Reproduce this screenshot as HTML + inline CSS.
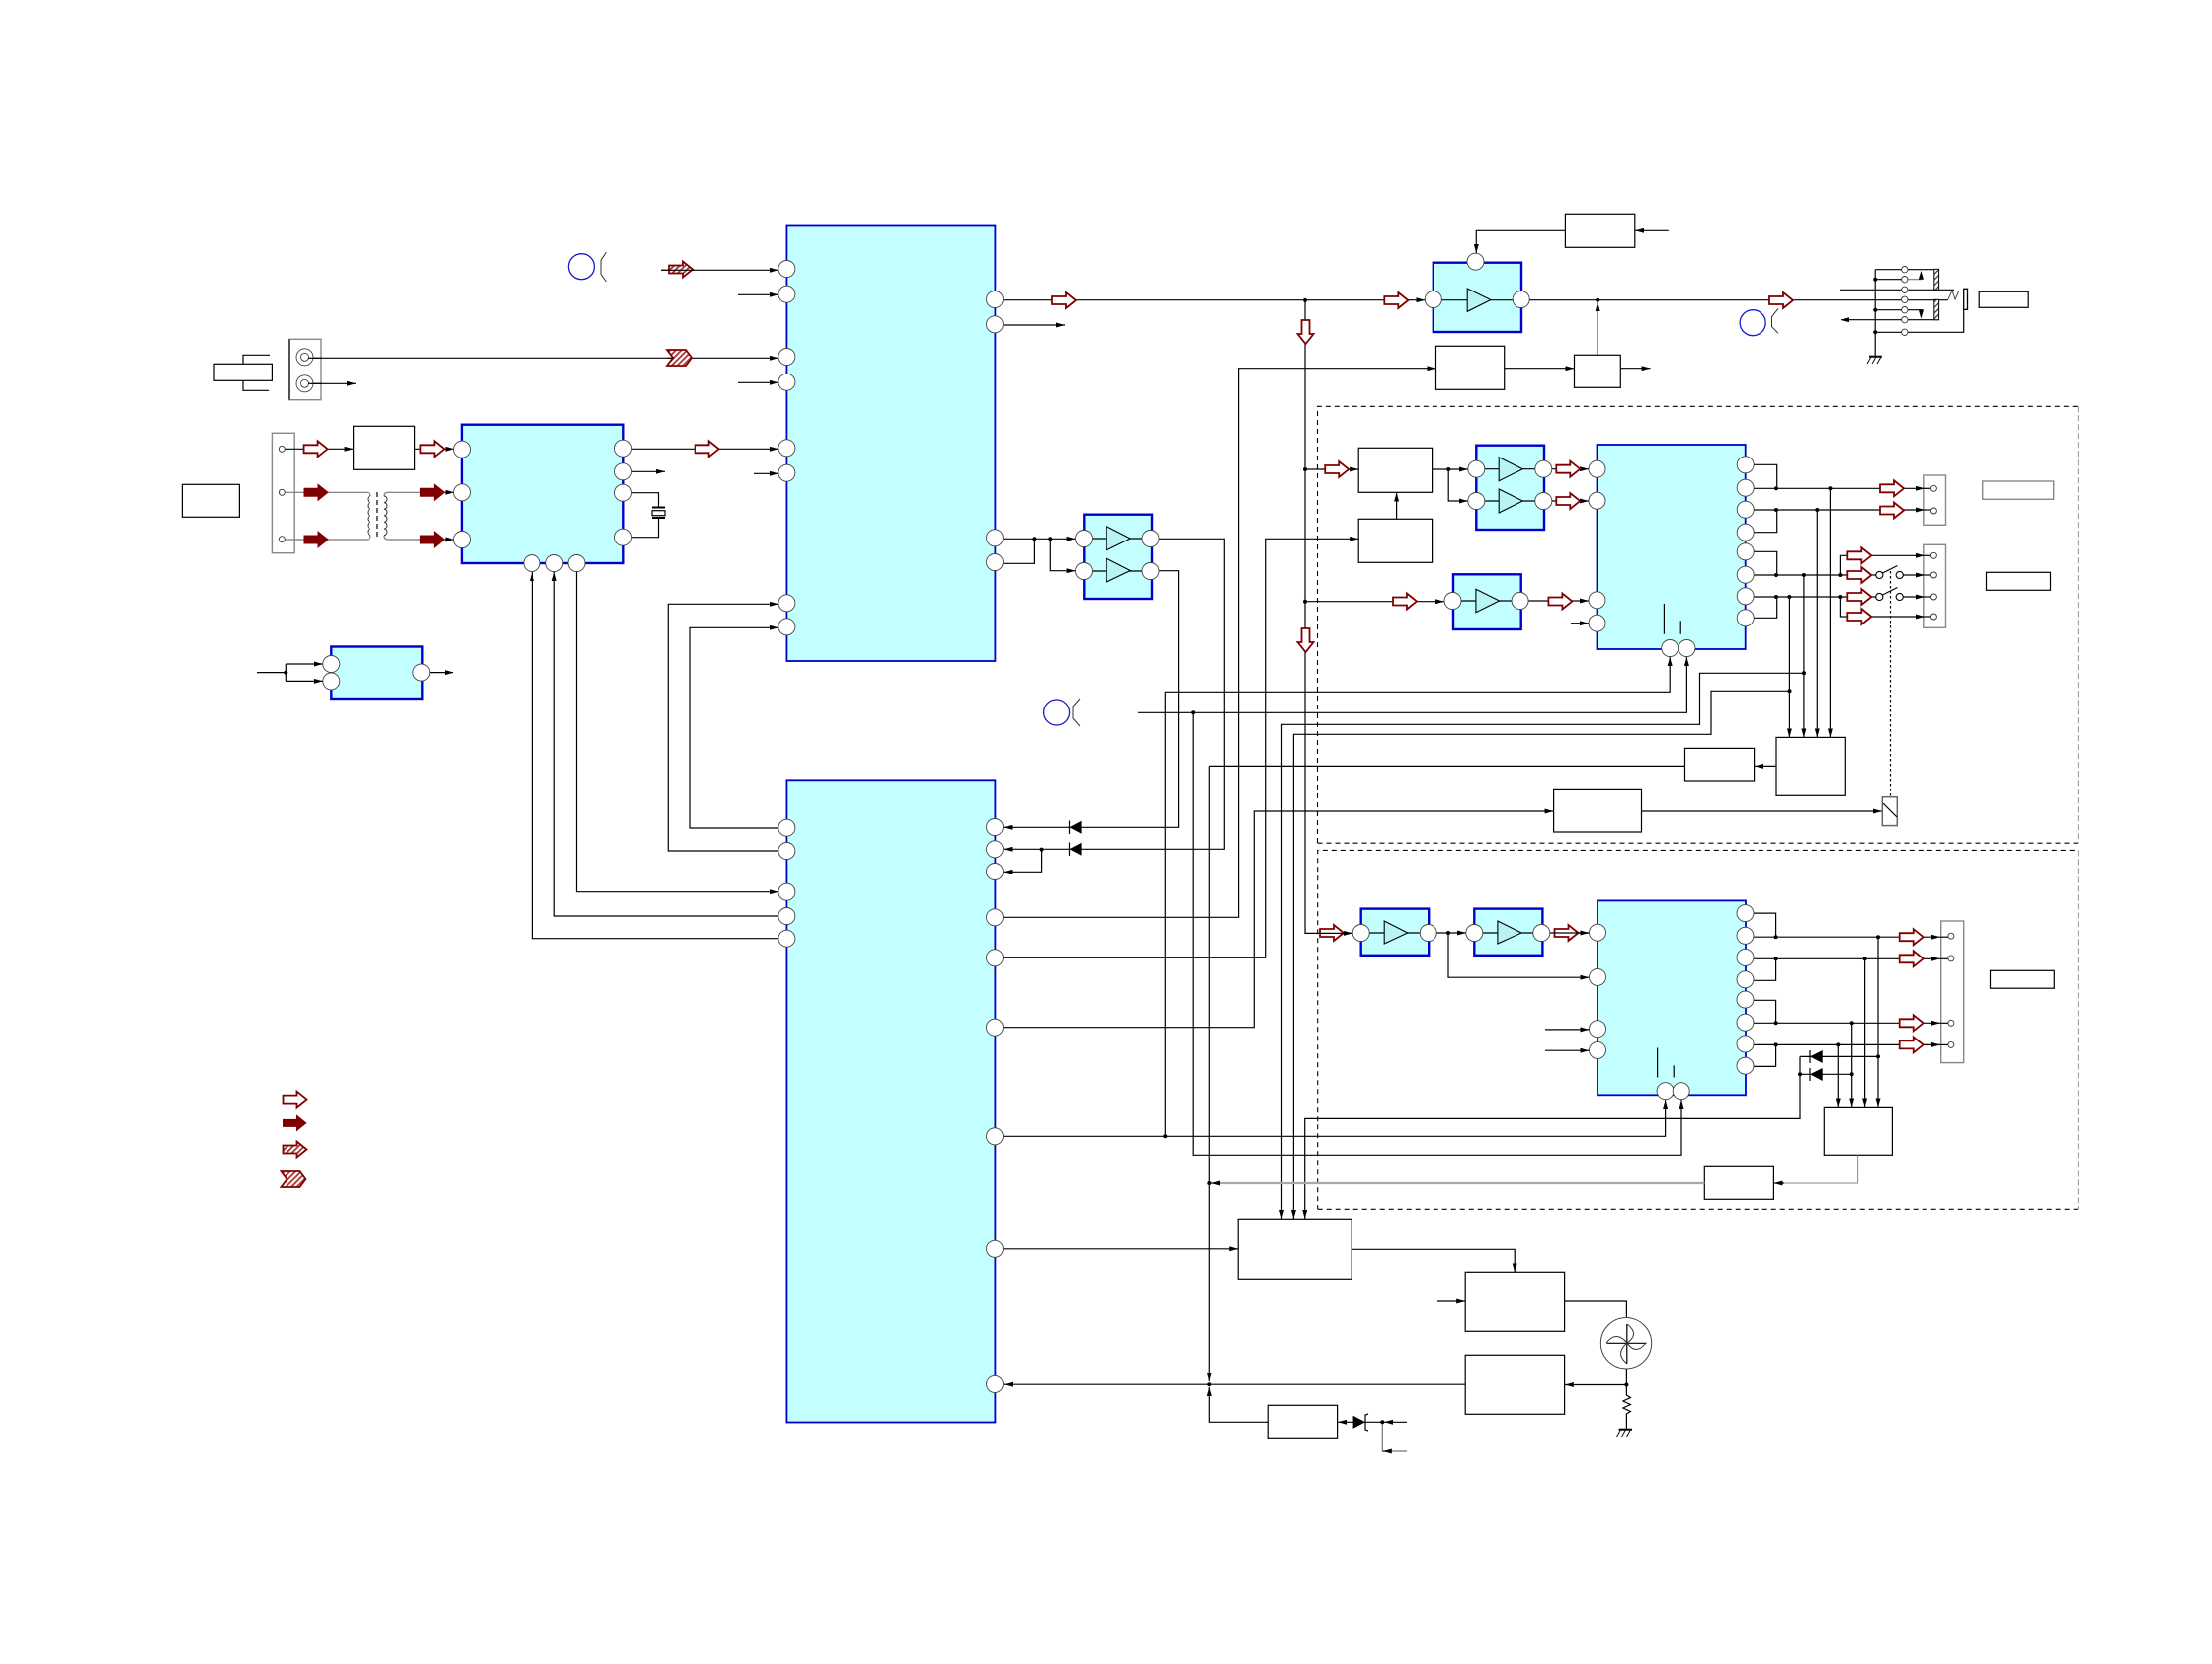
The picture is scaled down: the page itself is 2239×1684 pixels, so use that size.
<!DOCTYPE html>
<html><head><meta charset="utf-8"><title>Block diagram</title>
<style>
html,body{margin:0;padding:0;background:#fff;width:2239px;height:1684px;overflow:hidden}
svg{display:block}
.w{fill:none;stroke:#000;stroke-width:1.2}
.a{fill:none;stroke:#000;stroke-width:1.2;marker-end:url(#m)}
.g{fill:none;stroke:#777;stroke-width:1.2}
.b{fill:#c4ffff;stroke:#0000cc;stroke-width:2.4}
.bt{fill:#c4ffff;stroke:#0000cc;stroke-width:1.8}
.r{fill:#fff;stroke:#000;stroke-width:1.2}
.rg{fill:#fff;stroke:#888;stroke-width:1.4}
.p{fill:#fff;stroke:#444;stroke-width:.9}
.sp{fill:#fff;stroke:#333;stroke-width:.9}
.sw{fill:#fff;stroke:#000;stroke-width:1.1}
.t{fill:#b8f4f4;stroke:#000;stroke-width:1.1}
.j{fill:#000}
.o{fill:#fff;stroke:#800000;stroke-width:1.8}
.f{fill:#800000;stroke:#800000;stroke-width:1}
.h{fill:url(#hr);stroke:#800000;stroke-width:1.8}
.d{fill:none;stroke:#000;stroke-width:1.1;stroke-dasharray:5 4}
.dg{fill:none;stroke:#999;stroke-width:1;stroke-dasharray:6 3}
.bc{fill:none;stroke:#1a1acc;stroke-width:1.3}
.br{fill:none;stroke:#333;stroke-width:1}
</style></head><body>
<svg width="2239" height="1684" viewBox="0 0 2239 1684" xmlns="http://www.w3.org/2000/svg">
<defs>
<marker id="m" viewBox="0 0 9 5" refX="9" refY="2.5" markerWidth="9" markerHeight="5" markerUnits="userSpaceOnUse" orient="auto"><path d="M0,0L9,2.5L0,5Z"/></marker>
<pattern id="hr" width="4" height="4" patternUnits="userSpaceOnUse" patternTransform="rotate(-45)"><rect width="4" height="4" fill="#fff"/><rect width="4" height="1.8" fill="#a33"/></pattern>
<pattern id="hk" width="4" height="4" patternUnits="userSpaceOnUse" patternTransform="rotate(-45)"><rect width="4" height="4" fill="#fff"/><rect width="4" height="1.2" fill="#333"/></pattern>
<path id="ao" d="M0,-4H14V-8L24,0L14,8V4H0Z"/>
<path id="ac" d="M0,-8H19L25,0L19,8H0L6,0Z"/>
<path id="ad" d="M-4,0V14H-8L0,24L8,14H4V0Z"/>
</defs>

<rect width="2239" height="1684" fill="#fff"/>

<!-- dashed regions -->
<path class="d" d="M1333.5,853V411.3H2103"/><path class="dg" d="M2103.4,411.3V853"/><path class="d" d="M1333.5,853.2H2103"/>
<path class="d" d="M1333.7,1224.3V860.4H2103"/><path class="dg" d="M2103.4,860.4V1224.3"/><path class="d" d="M1333.7,1224.3H2103"/>

<!-- blocks -->
<rect class="bt" x="796.4" y="228.5" width="211" height="440.5"/>
<rect class="bt" x="796.4" y="789.3" width="211" height="650.2"/>
<rect class="b" x="467.9" y="429.7" width="163.4" height="140.3"/>
<rect class="b" x="335.3" y="654.5" width="92" height="52.5"/>
<rect class="b" x="1450.8" y="265.7" width="89.2" height="70.3"/>
<rect class="b" x="1097.3" y="520.7" width="68.7" height="85.3"/>
<rect class="b" x="1494.3" y="450.7" width="68.7" height="85.3"/>
<rect class="b" x="1471" y="581.3" width="68.7" height="55.7"/>
<rect class="b" x="1377.7" y="919.6" width="68.5" height="47.2"/>
<rect class="b" x="1492.3" y="919.6" width="69.1" height="47.2"/>
<rect class="bt" x="1616.5" y="450" width="150.2" height="207"/>
<rect class="bt" x="1617" y="911.4" width="150" height="196.9"/>

<!-- plain boxes -->
<rect class="r" x="184.4" y="490.3" width="58" height="33"/>
<rect class="r" x="357.6" y="431.3" width="62" height="44"/>
<rect class="r" x="217" y="368.3" width="58.4" height="17"/>
<rect class="r" x="1584.4" y="217.3" width="70.4" height="33"/>
<rect class="r" x="1453.5" y="350.3" width="69.2" height="44"/>
<rect class="r" x="1593.5" y="359.3" width="46.8" height="33"/>
<rect class="r" x="1375.2" y="453.3" width="74.4" height="45"/>
<rect class="r" x="1375.2" y="525.3" width="74.4" height="44"/>
<rect class="r" x="1572.6" y="798.4" width="88.9" height="43.6"/>
<rect class="r" x="1705.5" y="757.4" width="70.1" height="32.6"/>
<rect class="r" x="1798" y="746.4" width="70.3" height="58.9"/>
<rect class="r" x="1846.3" y="1120.4" width="69.1" height="48.9"/>
<rect class="r" x="1725.3" y="1180.3" width="70.1" height="33"/>
<rect class="r" x="1253.2" y="1234.3" width="115" height="60"/>
<rect class="r" x="1483.2" y="1287.3" width="100.4" height="60"/>
<rect class="r" x="1483.2" y="1371.3" width="100.4" height="60"/>
<rect class="r" x="1283.2" y="1422.3" width="70.4" height="33"/>
<rect class="r" x="2003.2" y="295.3" width="50" height="16"/>
<rect class="rg" x="2006.7" y="487" width="72" height="18.3"/>
<rect class="r" x="2010.5" y="579.3" width="65" height="18"/>
<rect class="r" x="2014.5" y="982.3" width="64.8" height="17.9"/>

<!-- strips and panels -->
<rect class="rg" x="293" y="343.3" width="32" height="61.4"/><path class="w" d="M293,343.3V404.7"/>
<rect class="rg" x="275.4" y="438.3" width="22.8" height="121.4"/>
<rect class="rg" x="1946.8" y="481" width="22.7" height="50.3"/>
<rect class="rg" x="1946.8" y="551.3" width="22.7" height="84"/>
<rect class="rg" x="1964.7" y="932" width="23" height="143.6"/>

<!-- plug -->
<path class="w" d="M246,368.3V359.3H273M246,385.3V395.3H272"/>

<!-- wires left -->
<path class="a" d="M669,273.3H788"/>
<path class="a" d="M747,298.3H788"/>
<path class="a" d="M311.6,362.3H788"/>
<path class="a" d="M747,387.3H788"/>
<path class="a" d="M640,454.3H788"/>
<path class="a" d="M763,479.3H788"/>
<path class="a" d="M788,861H676.3V611.3H788"/>
<path class="a" d="M788,838H698V635.3H788"/>
<path class="a" d="M788,949.7H538.4V579"/>
<path class="a" d="M788,927H561.2V579"/>
<path class="a" d="M583.5,579V902.7H788"/>
<path class="a" d="M312,388.3H360"/>
<path class="a" d="M285.3,454.3H357.6"/>
<path class="a" d="M419.6,454.3H459.4"/>
<path class="g" d="M288,498.3H371Q375,498.3 375,502M288,546H371Q375,546 375,542"/>
<path class="g" d="M393,498.3H452M393,546H452M393,546Q389,546 389,542M393,498.3Q389,498.3 389,502"/>
<path class="a" d="M450,498.3H459.4"/><path class="a" d="M450,546H459.4"/>
<path class="br" d="M375,502a3,3.3 0 1 0 0,6.6a3,3.3 0 1 0 0,6.6a3,3.3 0 1 0 0,6.6a3,3.3 0 1 0 0,6.6a3,3.3 0 1 0 0,6.6a3,3.3 0 1 0 0,6.6"/>
<path class="br" d="M389,502a3,3.3 0 1 1 0,6.6a3,3.3 0 1 1 0,6.6a3,3.3 0 1 1 0,6.6a3,3.3 0 1 1 0,6.6a3,3.3 0 1 1 0,6.6a3,3.3 0 1 1 0,6.6"/>
<path class="w" d="M382,498V546" stroke-dasharray="5 3"/>
<path class="a" d="M640,477.3H673"/>
<path class="w" d="M640,498.7H666.5V513M666.5,524V543.7H640"/>
<path class="w" d="M660,513.5H673M660,524H673" style="stroke-width:2"/>
<rect class="r" x="660" y="516.7" width="13" height="5"/>
<path class="w" d="M260,680.6H289.3M289.3,672V689.4"/>
<path class="a" d="M289.3,672H327"/><path class="a" d="M289.3,689.4H327"/><path class="a" d="M435,680.6H459"/>

<!-- wires centre -->
<path class="a" d="M1016,303.7H1442.3"/>
<path class="a" d="M1016,329H1078"/>
<path class="a" d="M1016,545.3H1088.6"/>
<path class="w" d="M1016,570.3H1047.4V545.3"/>
<path class="a" d="M1063.3,545.3V577.7H1088.6"/>
<path class="a" d="M1173,545.3H1239.3V859.3H1015.5"/>
<path class="a" d="M1173,577.7H1192.6V837.3H1015.5"/>
<path class="a" d="M1054.6,859.3V882.3H1015.5"/>
<path class="a" d="M1015.5,928.3H1253.6V372.7H1453.5"/>
<path class="a" d="M1015.5,969.3H1280.7V545.3H1375.2"/>
<path class="a" d="M1015.5,1039.7H1269.3V821H1572.6"/>
<path class="a" d="M1661.5,821H1905"/>
<path class="a" d="M1015.5,1150.3H1685.6V1113"/>
<path class="a" d="M1179.3,1150.3V700.3H1690.2V665"/>
<path class="a" d="M1152,721.3H1707.4V665"/>
<path class="a" d="M1208.2,721.3V1169.3H1702V1113"/>
<path class="w" d="M1224.3,775.4H1705.5"/>
<path class="a" d="M1224.3,775.4V1398"/>
<path class="a" d="M1283.2,1439.3H1224.3V1404"/>
<path class="a" d="M1798,775.4H1776"/>
<path class="a" d="M1826,681.3H1720.5V733.3H1297.5V1234"/>
<path class="a" d="M1811.5,699.3H1732V743.3H1309.4V1234"/>
<path class="a" d="M1822,1069.4V1131.4H1320.7V1234"/>
<path class="w" d="M1901,1069.4H1822M1874.7,1087.3H1822"/>
<path fill="none" stroke="#a8a8a8" stroke-width="2.2" d="M1725.3,1197H1233"/>
<path class="a" d="M1235,1197H1226"/>
<path fill="none" stroke="#888" stroke-width="1" d="M1880.6,1169.3V1197H1804"/>
<path class="a" d="M1806,1197H1795.6"/>
<path class="a" d="M1015.5,1263.8H1253.2"/>
<path class="a" d="M1368.2,1264.3H1533.2V1287.3"/>
<path class="a" d="M1455,1317H1483.2"/>
<path class="w" d="M1583.6,1317H1646.4V1333M1646.4,1385V1412l4,2.5-7.5,3.5 7.5,3.5-7.5,3.5 7.5,3.5-4,2.5V1446.7"/>
<path class="a" d="M1646.4,1401.5H1583.8"/>
<path class="a" d="M1483.2,1401.2H1016"/>
<path class="a" d="M1424,1439.3H1401"/>
<path class="a" d="M1399.3,1439.3H1354"/>
<path class="g" d="M1399.3,1439.3V1468H1424"/>
<path class="a" d="M1408,1468H1399.8"/>

<!-- wires upper right -->
<path class="a" d="M1321,303.7V944.4H1369"/>
<path class="a" d="M1321,475H1375.2"/>
<path class="a" d="M1321,608.7H1462"/>
<path class="a" d="M1449.6,475H1485.8"/>
<path class="a" d="M1466.2,475V507H1485.8"/>
<path class="a" d="M1413.6,525.3V498.5"/>
<path class="a" d="M1571,474.7H1608"/><path class="a" d="M1571,507H1608"/>
<path class="a" d="M1547,608H1608"/><path class="a" d="M1590,630.7H1608"/>
<path class="w" d="M1684.4,611V641.7M1701.2,628.3V641.7"/>
<path class="a" d="M1548,303.7H1972" style="marker-end:none"/>
<path class="a" d="M1617.2,359.3V306"/>
<path class="a" d="M1640.3,372.7H1670.6"/>
<path class="a" d="M1522.7,372.7H1593.5"/>
<path class="a" d="M1584.4,233.3H1494.3V256"/>
<path class="a" d="M1688.8,233.3H1655"/>
<!-- output section upper -->
<path class="a" d="M1775,494.3H1948"/><path class="w" d="M1948,494.3H1957"/>
<path class="w" d="M1775,470.3H1798.7V494.3"/>
<path class="a" d="M1775,516H1948"/><path class="w" d="M1948,516H1957"/>
<path class="w" d="M1775,538.7H1798.7V516M1775,558.3H1798.7V582M1775,582H1902M1775,604H1902M1775,625.3H1798.7V604"/>
<path class="a" d="M1862.4,582V562.3H1948"/><path class="w" d="M1948,562.3H1957"/>
<path class="a" d="M1862.4,604V624H1948"/><path class="w" d="M1948,624H1957"/>
<path class="a" d="M1922.7,582H1948"/><path class="w" d="M1948,582H1957"/>
<path class="a" d="M1922.7,604H1948"/><path class="w" d="M1948,604H1957"/>
<path class="a" d="M1811.4,604V746.4"/><path class="a" d="M1825.9,582V746.4"/><path class="a" d="M1839.3,516V746.4"/><path class="a" d="M1852.4,494.3V746.4"/>
<path class="w" d="M1913.5,578V806.7" stroke-dasharray="2.5 2.5"/>
<path class="w" d="M1905.4,580L1920.5,572.5M1905.4,602L1920.5,594.5"/>
<!-- output section lower -->
<path class="a" d="M1775,948.2H1964"/><path class="w" d="M1964,948.2H1975"/>
<path class="a" d="M1775,970.3H1964"/><path class="w" d="M1964,970.3H1975"/>
<path class="a" d="M1775,1035.3H1964"/><path class="w" d="M1964,1035.3H1975"/>
<path class="a" d="M1775,1057.4H1964"/><path class="w" d="M1964,1057.4H1975"/>
<path class="w" d="M1775,924.1H1797.6V948.2M1775,992.3H1797.6V970.3M1775,1012.3H1797.6V1035.3M1775,1079.4H1797.6V1057.4"/>
<path class="a" d="M1901,948.2V1120.4"/><path class="a" d="M1887.6,970.3V1120.4"/><path class="a" d="M1874.7,1035.3V1120.4"/><path class="a" d="M1860.3,1057.4V1120.4"/>
<path class="a" d="M1454,944H1484"/>
<path class="a" d="M1569,944H1608.5"/>
<path class="a" d="M1466,944V989.2H1608.5"/>
<path class="a" d="M1564,1041.9H1608.5"/><path class="a" d="M1564,1063.2H1608.5"/>
<path class="w" d="M1677.6,1060.5V1090.5M1694.2,1078.4V1090.5"/>

<!-- amp inner lines and triangles -->
<path class="w" d="M1097,545H1166M1097,578H1166M1494,474.7H1563M1494,507H1563M1471,608H1539M1450.8,303.7H1540M1377.7,944H1446M1492.3,944H1561"/>
<path class="t" d="M1120.2,532.7L1144.3,545L1120.2,556.7Z"/>
<path class="t" d="M1120.2,565.3L1144.3,577.5L1120.2,589Z"/>
<path class="t" d="M1517.2,462.7L1541.3,474.7L1517.2,486.7Z"/>
<path class="t" d="M1517.2,495L1541.3,507L1517.2,519Z"/>
<path class="t" d="M1493.9,596.3L1517.6,608L1493.9,619.7Z"/>
<path class="t" d="M1485.2,292L1508.9,303.5L1485.2,315.3Z"/>
<path class="t" d="M1401.2,932L1424.8,944L1401.2,955Z"/>
<path class="t" d="M1515.9,932L1540,944L1515.9,955Z"/>

<!-- top right connector -->
<path class="w" d="M1898.2,272.7V360.7M1898.2,272.7H1962.6"/>
<path class="w" d="M1898.2,282.7H1928"/><path class="g" d="M1928,282.7H1944.4"/>
<path class="w" d="M1862,293.3H1978"/>
<path class="w" d="M1898.2,313.7H1944.4"/>
<path class="w" d="M1927,323.7H1962.6"/>
<path class="a" d="M1927.8,323.7H1863"/>
<path class="w" d="M1898.2,336.3H1987.7V313"/>
<rect x="1957.8" y="272.3" width="4.8" height="21" fill="url(#hk)" stroke="#000" stroke-width="1"/>
<rect x="1957.8" y="303.3" width="4.8" height="20.4" fill="url(#hk)" stroke="#000" stroke-width="1"/>
<path class="j" d="M1944.4,274L1947,282.7H1941.8Z"/><path class="j" d="M1944.4,322.7L1947,313.3H1941.8Z"/>
<path fill="none" stroke="#333" stroke-width=".9" d="M1972,303L1976,294L1979,303L1983,294"/>
<rect x="1987.7" y="292.3" width="3.8" height="21" fill="#fff" stroke="#000" stroke-width="1.3"/>
<path d="M1892,360.7H1904.8" stroke="#000" stroke-width="2"/>
<path class="w" d="M1894,361L1890,368M1899,361L1895,368M1904,361L1900,368" style="stroke-width:.9"/>
<path d="M1638.6,1446.7H1652" stroke="#000" stroke-width="2"/>
<path class="w" d="M1640.5,1447L1636.5,1454M1645.5,1447L1641.5,1454M1650.5,1447L1646.5,1454" style="stroke-width:.9"/>

<!-- relay -->
<rect x="1905.3" y="806.7" width="15" height="28.9" fill="#fff" stroke="#666" stroke-width="1.5"/>
<path class="w" d="M1906,813L1920,827"/>

<!-- fan -->
<circle cx="1646" cy="1359.3" r="25.7" fill="#fff" stroke="#333" stroke-width=".9"/>
<path class="w" d="M1626.5,1359.3H1666.5M1646.8,1340V1380"/>
<path class="br" d="M1647,1340Q1660,1350 1647,1359M1666,1359Q1656,1372 1647,1359M1647,1380Q1634,1370 1647,1359M1626,1359Q1636,1346 1647,1359"/>

<!-- diodes -->
<path class="j" d="M1082.5,837.3L1094.6,830.8V843.8Z"/><path class="w" d="M1082.5,830.5V844"/>
<path class="j" d="M1082.5,859.3L1094.6,852.8V865.8Z"/><path class="w" d="M1082.5,852.5V866"/>
<path class="j" d="M1832,1069.4L1844.7,1063V1076Z"/><path class="w" d="M1832,1063V1076"/>
<path class="j" d="M1832,1087.3L1844.7,1081V1094Z"/><path class="w" d="M1832,1081V1094"/>
<path class="j" d="M1369.6,1432.7L1382,1439.3L1369.6,1445.9Z"/><path class="w" d="M1385,1431l-3,1v15l3,1"/>

<!-- blue circles & brackets -->
<circle class="bc" cx="588.4" cy="269.7" r="13"/><path class="br" d="M613.4,255L608,263.3V277.3L613.4,285"/>
<circle class="bc" cx="1774.2" cy="326.7" r="13"/><path class="br" d="M1800,312.3L1793.5,320.7V330.7L1800,337.3"/>
<circle class="bc" cx="1069.6" cy="721" r="13"/><path class="br" d="M1093,707L1086,715V727L1093,735"/>

<!-- jack circles -->
<circle class="p" cx="308.5" cy="361.3" r="8.5"/><circle class="p" cx="308.5" cy="361.3" r="4"/>
<circle class="p" cx="308.5" cy="388.3" r="8.5"/><circle class="p" cx="308.5" cy="388.3" r="4"/>
<path class="w" d="M312,362.3H326"/><path class="w" d="M312,388.3H326"/>

<!-- red arrows open -->
<g class="o">
<use href="#ao" x="1065" y="304"/><use href="#ao" x="1401.3" y="304"/><use href="#ao" x="1791" y="304"/>
<use href="#ao" x="307.6" y="454.3"/><use href="#ao" x="425.4" y="454.3"/><use href="#ao" x="703.6" y="454.3"/>
<use href="#ao" x="1341.2" y="475"/><use href="#ao" x="1575.3" y="474.7"/><use href="#ao" x="1575.3" y="507"/>
<use href="#ao" x="1410" y="608.5"/><use href="#ao" x="1567.4" y="608.5"/>
<use href="#ao" x="1903" y="494.3"/><use href="#ao" x="1903" y="516.5"/>
<use href="#ao" x="1870.3" y="562.3"/><use href="#ao" x="1870.3" y="582"/><use href="#ao" x="1870.3" y="604"/><use href="#ao" x="1870.3" y="624"/>
<use href="#ao" x="1336" y="944"/><use href="#ao" x="1573.5" y="944"/>
<use href="#ao" x="1922.7" y="948.2"/><use href="#ao" x="1922.7" y="970.3"/><use href="#ao" x="1922.7" y="1035.3"/><use href="#ao" x="1922.7" y="1057.4"/>
<use href="#ao" x="286.5" y="1112.6"/>
<use href="#ad" x="1321.5" y="324"/><use href="#ad" x="1321.5" y="636"/>
</g>
<path class="w" d="M1336,944.4H1369M1573.5,944H1608.5"/>
<!-- filled -->
<g class="f">
<use href="#ao" x="308" y="498.3"/><use href="#ao" x="308" y="546"/>
<use href="#ao" x="425.4" y="498.3"/><use href="#ao" x="425.4" y="546"/>
<use href="#ao" x="286.5" y="1136.4"/>
</g>
<!-- hatched -->
<g class="h">
<use href="#ao" x="677" y="272.5"/><use href="#ao" x="286.5" y="1163.5"/>
<use href="#ac" x="675" y="362"/><use href="#ac" x="284.5" y="1193"/>
</g>
<path class="w" d="M669,273.3H702M675,362.3H681"/>

<!-- pins -->
<g class="p">
<circle cx="796.4" cy="272" r="8.5"/><circle cx="796.4" cy="297.7" r="8.5"/><circle cx="796.4" cy="361" r="8.5"/><circle cx="796.4" cy="386.7" r="8.5"/><circle cx="796.4" cy="453.3" r="8.5"/><circle cx="796.4" cy="478.7" r="8.5"/><circle cx="796.4" cy="610.3" r="8.5"/><circle cx="796.4" cy="634.3" r="8.5"/>
<circle cx="1007" cy="303" r="8.5"/><circle cx="1007" cy="328.3" r="8.5"/><circle cx="1007" cy="544.3" r="8.5"/><circle cx="1007" cy="569" r="8.5"/>
<circle cx="796.4" cy="837.7" r="8.5"/><circle cx="796.4" cy="861" r="8.5"/><circle cx="796.4" cy="902.7" r="8.5"/><circle cx="796.4" cy="927" r="8.5"/><circle cx="796.4" cy="949.7" r="8.5"/>
<circle cx="1007" cy="837" r="8.5"/><circle cx="1007" cy="859.3" r="8.5"/><circle cx="1007" cy="882" r="8.5"/><circle cx="1007" cy="928.3" r="8.5"/><circle cx="1007" cy="969.3" r="8.5"/><circle cx="1007" cy="1039.7" r="8.5"/><circle cx="1007" cy="1150.3" r="8.5"/><circle cx="1007" cy="1263.8" r="8.5"/><circle cx="1007" cy="1400.9" r="8.5"/>
<circle cx="468" cy="454.7" r="8.5"/><circle cx="468" cy="498.3" r="8.5"/><circle cx="468" cy="546" r="8.5"/>
<circle cx="631" cy="453.7" r="8.5"/><circle cx="631" cy="477.3" r="8.5"/><circle cx="631" cy="498.7" r="8.5"/><circle cx="631" cy="543.7" r="8.5"/>
<circle cx="538.4" cy="570" r="8.5"/><circle cx="561.2" cy="570" r="8.5"/><circle cx="583.5" cy="570" r="8.5"/>
<circle cx="335.3" cy="672" r="8.5"/><circle cx="335.3" cy="689.4" r="8.5"/><circle cx="426.3" cy="680.6" r="8.5"/>
<circle cx="1450.8" cy="303" r="8.5"/><circle cx="1539.7" cy="303" r="8.5"/><circle cx="1493.5" cy="264.7" r="8.5"/>
<circle cx="1097" cy="545" r="8.5"/><circle cx="1097" cy="578" r="8.5"/><circle cx="1164.5" cy="545" r="8.5"/><circle cx="1164.5" cy="578" r="8.5"/>
<circle cx="1494.3" cy="474.7" r="8.5"/><circle cx="1494.3" cy="507" r="8.5"/><circle cx="1562.3" cy="474.7" r="8.5"/><circle cx="1562.3" cy="507" r="8.5"/>
<circle cx="1470.5" cy="608" r="8.5"/><circle cx="1538.6" cy="608" r="8.5"/>
<circle cx="1616.5" cy="474.7" r="8.5"/><circle cx="1616.5" cy="506.7" r="8.5"/><circle cx="1616.5" cy="607.3" r="8.5"/><circle cx="1616.5" cy="630.7" r="8.5"/>
<circle cx="1766.7" cy="470.3" r="8.5"/><circle cx="1766.7" cy="493.7" r="8.5"/><circle cx="1766.7" cy="515.7" r="8.5"/><circle cx="1766.7" cy="538.7" r="8.5"/><circle cx="1766.7" cy="558.3" r="8.5"/><circle cx="1766.7" cy="581.7" r="8.5"/><circle cx="1766.7" cy="603.3" r="8.5"/><circle cx="1766.7" cy="625.3" r="8.5"/>
<circle cx="1690.2" cy="656" r="8.5"/><circle cx="1707.4" cy="656" r="8.5"/>
<circle cx="1377.7" cy="944" r="8.5"/><circle cx="1445.7" cy="944" r="8.5"/><circle cx="1492.3" cy="944" r="8.5"/><circle cx="1560.3" cy="944" r="8.5"/>
<circle cx="1617" cy="943.7" r="8.5"/><circle cx="1617" cy="988.9" r="8.5"/><circle cx="1617" cy="1041.2" r="8.5"/><circle cx="1617" cy="1062.9" r="8.5"/>
<circle cx="1766.5" cy="924.1" r="8.5"/><circle cx="1766.5" cy="946.8" r="8.5"/><circle cx="1766.5" cy="968.9" r="8.5"/><circle cx="1766.5" cy="991.3" r="8.5"/><circle cx="1766.5" cy="1011.6" r="8.5"/><circle cx="1766.5" cy="1034.7" r="8.5"/><circle cx="1766.5" cy="1056.4" r="8.5"/><circle cx="1766.5" cy="1078.7" r="8.5"/>
<circle cx="1685.6" cy="1104.2" r="8.5"/><circle cx="1701.7" cy="1104.2" r="8.5"/>
</g>
<!-- small pins -->
<g class="sp">
<circle cx="285.3" cy="454.3" r="3"/><circle cx="285.3" cy="498.3" r="3"/><circle cx="285.3" cy="545.7" r="3"/>
<circle cx="1927.8" cy="272.7" r="3.2"/><circle cx="1927.8" cy="282.7" r="3.2"/><circle cx="1927.8" cy="293.3" r="3.2"/><circle cx="1927.8" cy="303.3" r="3.2"/><circle cx="1927.8" cy="313.7" r="3.2"/><circle cx="1927.8" cy="323.7" r="3.2"/><circle cx="1927.8" cy="336.3" r="3.2"/>
<circle cx="1957.4" cy="494.3" r="3"/><circle cx="1957.4" cy="517" r="3"/>
<circle cx="1957.4" cy="562.3" r="3"/><circle cx="1957.4" cy="582" r="3"/><circle cx="1957.4" cy="604" r="3"/><circle cx="1957.4" cy="624" r="3"/>
<circle cx="1974.9" cy="947.2" r="3"/><circle cx="1974.9" cy="969.9" r="3"/><circle cx="1974.9" cy="1035.3" r="3"/><circle cx="1974.9" cy="1057.4" r="3"/>
</g>
<g class="sw">
<circle cx="1902.3" cy="582" r="3.6"/><circle cx="1922.7" cy="582" r="3.6"/><circle cx="1902.3" cy="604" r="3.6"/><circle cx="1922.7" cy="604" r="3.6"/>
</g>
<!-- junctions -->
<g class="j">
<circle cx="289.3" cy="680.6" r="2"/>
<circle cx="1047.4" cy="545.3" r="2"/><circle cx="1063.3" cy="545.3" r="2"/><circle cx="1054.6" cy="859.6" r="2"/>
<circle cx="1321" cy="303.9" r="2"/><circle cx="1321" cy="475" r="2"/><circle cx="1321" cy="608.7" r="2"/>
<circle cx="1617.2" cy="303.8" r="2"/><circle cx="1466.2" cy="475" r="2"/><circle cx="1466" cy="944" r="2"/>
<circle cx="1898.2" cy="282.7" r="2"/><circle cx="1898.2" cy="313.7" r="2"/><circle cx="1898.2" cy="336.3" r="2"/>
<circle cx="1798" cy="494.3" r="2"/><circle cx="1798" cy="516" r="2"/><circle cx="1798" cy="582" r="2"/><circle cx="1798" cy="604" r="2"/>
<circle cx="1852.4" cy="494.3" r="2"/><circle cx="1839.3" cy="516" r="2"/><circle cx="1825.9" cy="582" r="2"/><circle cx="1811.4" cy="604" r="2"/>
<circle cx="1862.4" cy="582" r="2"/><circle cx="1862.4" cy="604" r="2"/>
<circle cx="1811.5" cy="699.3" r="2"/><circle cx="1826" cy="681.3" r="2"/>
<circle cx="1179.3" cy="1150.3" r="2"/><circle cx="1208.2" cy="721.3" r="2"/>
<circle cx="1224.3" cy="1197" r="2"/><circle cx="1224.3" cy="1401.2" r="2"/><circle cx="1646.4" cy="1401.5" r="2"/><circle cx="1399.3" cy="1439.3" r="2"/>
<circle cx="1797.6" cy="948.2" r="2"/><circle cx="1797.6" cy="970.3" r="2"/><circle cx="1797.6" cy="1035.3" r="2"/><circle cx="1797.6" cy="1057.4" r="2"/>
<circle cx="1901" cy="948.2" r="2"/><circle cx="1887.6" cy="970.3" r="2"/><circle cx="1874.7" cy="1035.3" r="2"/><circle cx="1860.3" cy="1057.4" r="2"/>
<circle cx="1901" cy="1069.4" r="2"/><circle cx="1874.7" cy="1087.3" r="2"/><circle cx="1822" cy="1087.3" r="2"/>
</g>
</svg>
</body></html>
